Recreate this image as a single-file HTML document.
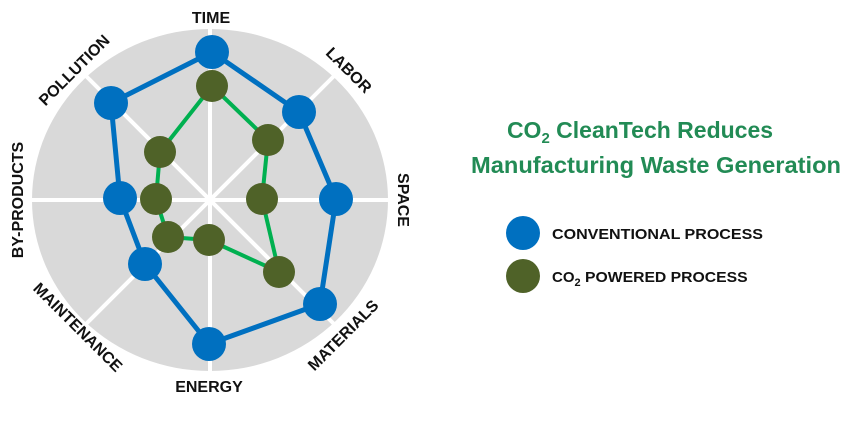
<!DOCTYPE html>
<html><head><style>body{margin:0;background:#fff}svg{display:block}</style></head><body>
<svg width="851" height="423" xmlns="http://www.w3.org/2000/svg" font-family="Liberation Sans, sans-serif" font-weight="bold">
<ellipse cx="210" cy="200" rx="178" ry="171" fill="#d9d9d9"/>
<g stroke="#fff" stroke-width="4">
<line x1="210" y1="25" x2="210" y2="375"/>
<line x1="30" y1="200" x2="390" y2="200"/>
<line x1="86" y1="76" x2="334" y2="324"/>
<line x1="334" y1="76" x2="86" y2="324"/>
</g>
<polygon points="212,52 299,112 336,199 320,304 209,344 145,264 120,198 111,103" fill="none" stroke="#0070c0" stroke-width="5" stroke-linejoin="round"/>
<polygon points="212,86 268,140 262,199 279,272 209,240 168,237 156,199 160,152" fill="none" stroke="#00b050" stroke-width="4" stroke-linejoin="round"/>
<g fill="#0070c0">
<circle cx="212" cy="52" r="17"/><circle cx="299" cy="112" r="17"/><circle cx="336" cy="199" r="17"/><circle cx="320" cy="304" r="17"/><circle cx="209" cy="344" r="17"/><circle cx="145" cy="264" r="17"/><circle cx="120" cy="198" r="17"/><circle cx="111" cy="103" r="17"/>
</g>
<g fill="#4f6228">
<circle cx="212" cy="86" r="16"/><circle cx="268" cy="140" r="16"/><circle cx="262" cy="199" r="16"/><circle cx="279" cy="272" r="16"/><circle cx="209" cy="240" r="16"/><circle cx="168" cy="237" r="16"/><circle cx="156" cy="199" r="16"/><circle cx="160" cy="152" r="16"/>
</g>
<g font-size="16" fill="#111" text-anchor="middle">
<text x="211" y="23">TIME</text>
<text x="209" y="392">ENERGY</text>
<text transform="translate(345,74) rotate(45)">LABOR</text>
<text transform="translate(78,74) rotate(-45)">POLLUTION</text>
<text transform="translate(398,200) rotate(90)">SPACE</text>
<text transform="translate(23,200) rotate(-90)">BY-PRODUCTS</text>
<text transform="translate(347,339) rotate(-45)">MATERIALS</text>
<text transform="translate(74,331) rotate(45)">MAINTENANCE</text>
</g>
<g fill="#228b55" font-size="23" text-anchor="middle">
<text x="640" y="138">CO<tspan font-size="15" dy="5">2</tspan><tspan dy="-5"> CleanTech Reduces</tspan></text>
<text x="656" y="173" textLength="370" lengthAdjust="spacingAndGlyphs">Manufacturing Waste Generation</text>
</g>
<circle cx="523" cy="233" r="17" fill="#0070c0"/>
<circle cx="523" cy="276" r="17" fill="#4f6228"/>
<g font-size="15" fill="#111">
<text x="552" y="239" textLength="211" lengthAdjust="spacingAndGlyphs">CONVENTIONAL PROCESS</text>
<text x="552" y="282">CO<tspan font-size="11" dy="4">2</tspan><tspan dy="-4" textLength="167" lengthAdjust="spacingAndGlyphs"> POWERED PROCESS</tspan></text>
</g>
</svg>
</body></html>
